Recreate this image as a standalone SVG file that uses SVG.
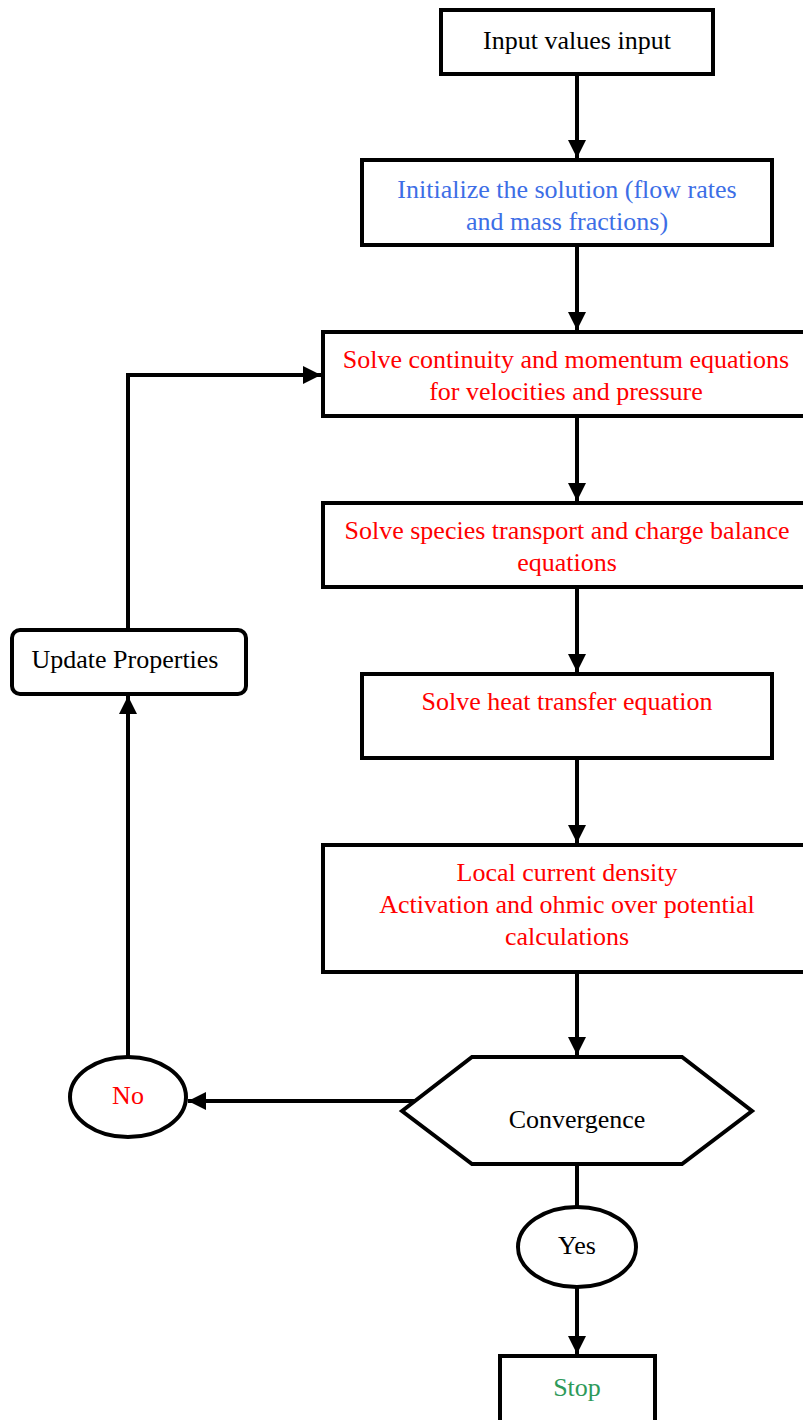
<svg xmlns="http://www.w3.org/2000/svg" width="803" height="1420" viewBox="0 0 803 1420">
<defs>
<style>
.box{fill:#fff;stroke:#000;stroke-width:4}
.ln{fill:none;stroke:#000;stroke-width:4}
</style>
<marker id="ah" viewBox="0 0 10 10" refX="10" refY="5" markerWidth="4.5" markerHeight="4.5" orient="auto" markerUnits="strokeWidth">
<path d="M0,0 L10,5 L0,10 z" fill="#000"/>
</marker>
</defs>
<rect width="803" height="1420" fill="#fff"/>
<g id="connectors">
<line class="ln" x1="577" y1="74" x2="577" y2="158" marker-end="url(#ah)"/>
<line class="ln" x1="577" y1="245" x2="577" y2="330" marker-end="url(#ah)"/>
<line class="ln" x1="577" y1="416" x2="577" y2="501" marker-end="url(#ah)"/>
<line class="ln" x1="577" y1="587" x2="577" y2="672" marker-end="url(#ah)"/>
<line class="ln" x1="577" y1="758" x2="577" y2="843" marker-end="url(#ah)"/>
<line class="ln" x1="577" y1="972" x2="577" y2="1055" marker-end="url(#ah)"/>
<line class="ln" x1="420" y1="1101" x2="188" y2="1101" marker-end="url(#ah)"/>
<line class="ln" x1="128" y1="1057" x2="128" y2="696" marker-end="url(#ah)"/>
<polyline class="ln" points="128,630 128,375 321,375" marker-end="url(#ah)"/>
<line class="ln" x1="577" y1="1164" x2="577" y2="1207"/>
<line class="ln" x1="577" y1="1287" x2="577" y2="1354" marker-end="url(#ah)"/>
</g>
<g font-family="Liberation Serif, DejaVu Serif, Times New Roman, serif" font-size="26" text-anchor="middle">
<g id="input">
<rect class="box" x="441" y="10" width="272" height="64"/>
<text fill="#000" x="577" y="49">Input values input</text>
</g>
<g id="init">
<rect class="box" x="362" y="160" width="410" height="85"/>
<text fill="#3d6ee6" x="567" y="198">Initialize the solution (flow rates</text>
<text fill="#3d6ee6" x="567" y="230">and mass fractions)</text>
</g>
<g id="continuity">
<rect class="box" x="323" y="332" width="484" height="84"/>
<text fill="#ff0000" x="566" y="368">Solve continuity and momentum equations</text>
<text fill="#ff0000" x="566" y="400">for velocities and pressure</text>
</g>
<g id="species">
<rect class="box" x="323" y="503" width="484" height="84"/>
<text fill="#ff0000" x="567" y="539">Solve species transport and charge balance</text>
<text fill="#ff0000" x="567" y="571">equations</text>
</g>
<g id="heat">
<rect class="box" x="362" y="674" width="410" height="84"/>
<text fill="#ff0000" x="567" y="710">Solve heat transfer equation</text>
</g>
<g id="current">
<rect class="box" x="323" y="845" width="484" height="127"/>
<text fill="#ff0000" x="567" y="881">Local current density</text>
<text fill="#ff0000" x="567" y="913">Activation and ohmic over potential</text>
<text fill="#ff0000" x="567" y="945">calculations</text>
</g>
<g id="convergence">
<polygon class="box" points="402,1111 472,1057 682,1057 752,1111 682,1164 472,1164"/>
<text fill="#000" x="577" y="1128">Convergence</text>
</g>
<g id="no">
<ellipse class="box" cx="128" cy="1097" rx="58" ry="40"/>
<text fill="#ff0000" x="128" y="1104">No</text>
</g>
<g id="update">
<rect class="box" x="12" y="630" width="234" height="64" rx="8"/>
<text fill="#000" x="125" y="668">Update Properties</text>
</g>
<g id="yes">
<ellipse class="box" cx="577" cy="1247" rx="59" ry="40"/>
<text fill="#000" x="577" y="1254">Yes</text>
</g>
<g id="stop">
<rect class="box" x="500" y="1356" width="155" height="70"/>
<text fill="#2e9a5a" x="577" y="1396">Stop</text>
</g>
</g>
</svg>
